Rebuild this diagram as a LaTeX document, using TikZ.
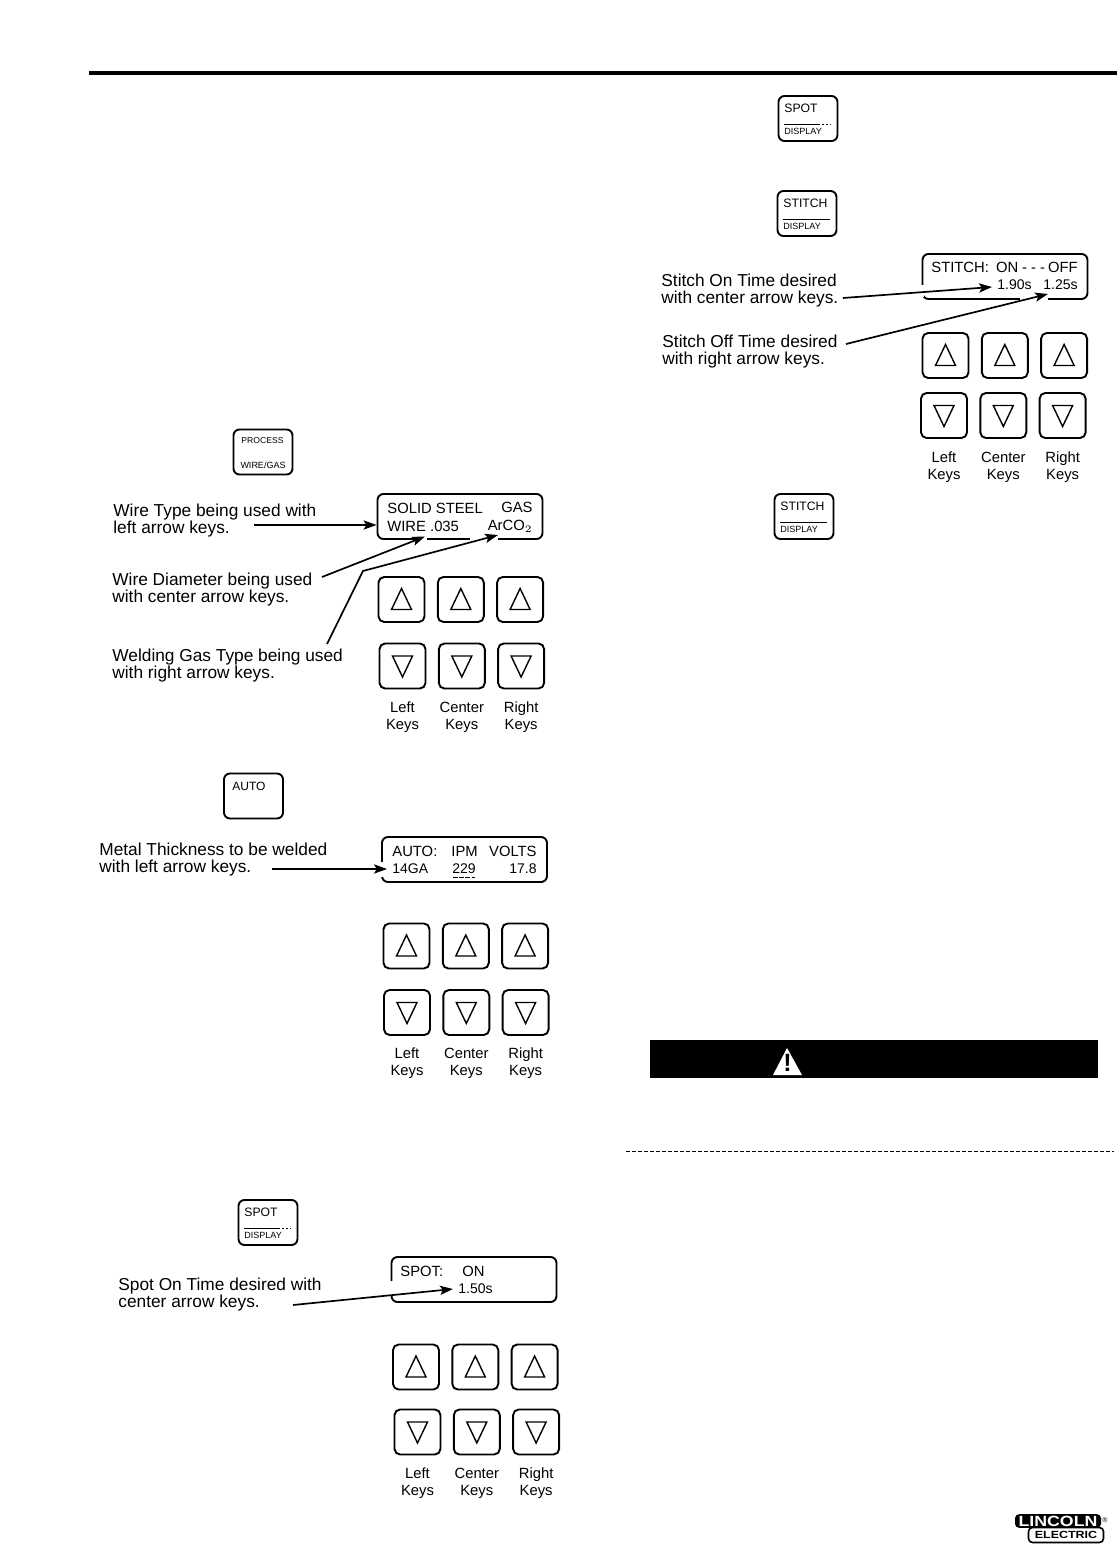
\documentclass[tikz,border=0pt]{standalone}
\usepackage{fontspec}
\setmainfont{Liberation Sans}
\newfontfamily\logofont[FakeStretch=1.2]{Liberation Sans}
\usetikzlibrary{arrows.meta}
\tikzset{
	keybox/.style={draw,line width=.95pt,rounded corners=2.8pt,minimum width=23pt,minimum height=22.5pt,inner sep=0pt},
	btnbox/.style={draw,line width=.95pt,rounded corners=3pt,minimum width=29.5pt,minimum height=22.5pt,inner sep=0pt},
	dspbox/.style={draw,line width=.95pt,rounded corners=3pt,minimum width=82.5pt,minimum height=22.5pt,inner sep=0pt},
	tri/.style={line width=.7pt,line join=miter},
	lab/.style={anchor=west,align=left,inner sep=0pt,font=\fontsize{8.65}{8.5}\selectfont},
	keylab/.style={align=center,inner sep=0pt,font=\fontsize{7.4}{8.5}\selectfont},
	dsp/.style={inner sep=0pt,font=\fontsize{7.4}{8}\selectfont},
	dspb/.style={inner sep=0pt,font=\fontsize{7}{8}\selectfont},
	lead/.style={line width=.85pt,-{Stealth[length=6.5pt,width=4.6pt,inset=1.4pt]}},
	gap/.style={white,line width=1.6pt},
}
% three up keys, three down keys and their names
\newcommand{\keypad}[6]{
	\foreach \i/\t/\n in {0/Left/l,1/Center/c,2/Right/r}{
		\node[keybox] (#1up\n) at ({#2+59.3*\i},#3) {};
		\node[keybox] (#1dn\n) at ({#4+59.3*\i},#5) {};
		\draw[tri] (#1up\n.center) ++(0,-11) -- ++(10,21) -- ++(-20,0) -- cycle;
		\draw[tri] (#1dn\n.center) ++(0,11) -- ++(10,-21) -- ++(-20,0) -- cycle;
		\node[keylab] (#1lab\n) at ({#4+59.3*\i},#6) {\t\\Keys};
	}
}
% key with a DISPLAY line
\newcommand{\dispkey}[5][]{
	\node[btnbox] (#2) at (#3,#4) {};
	\node[inner sep=0pt,anchor=west,font=\fontsize{6.1}{7}\selectfont] (#2top) at (#3-24,#4-10) {#5};
	\draw[line width=.35pt,#1] (#3-24,#4+5.5) -- (#3+23,#4+5.5);
	\node[inner sep=0pt,anchor=west,font=\fontsize{4.5}{5}\selectfont] (#2bot) at (#3-24,#4+13) {DISPLAY};
}
\begin{document}
\begin{tikzpicture}[x=.5pt,y=-.5pt]
	\useasboundingbox (0,0) rectangle (1117,1550);
	
	\draw[line width=2pt] (89,73) to (1117,73);
	
	%process panel
	\node[btnbox] (process) at (263,452) {};
	\node[inner sep=0pt,font=\fontsize{4.3}{5}\selectfont] (processtop) at (262.5,441) {PROCESS};
	\node[inner sep=0pt,font=\fontsize{4.5}{5}\selectfont] (processbot) at (263,465) {WIRE/GAS};
	\node[dspbox] (dspa) at (460,516.5) {};
	\draw[gap] (417,539) to (427,539);
	\draw[gap] (470,539) to (498,539);
	\node[dsp,anchor=west] (dspaa) at (387,508) {SOLID STEEL};
	\node[dsp,anchor=east] (dspab) at (533,507.5) {GAS};
	\node[dsp,anchor=west] (dspac) at (387,526) {WIRE .035};
	\node[dsp,anchor=east] (dspad) at (533,526.5) {ArCO$_2$};
	\keypad{a}{401.5}{599.5}{402.5}{666}{717}
	\node[lab] (wiretype) at (113,520.5) {Wire Type being used with\\left arrow keys.};
	\node[lab] (wirediam) at (112,590) {Wire Diameter being used\\with center arrow keys.};
	\node[lab] (gastype) at (112,666) {Welding Gas Type being used\\with right arrow keys.};
	\coordinate (wiretypeend) at (254,525);
	\coordinate (wirediamend) at (322,577);
	\coordinate (gastypeend) at (327,644);
	\coordinate (gaskink) at (363,571);
	\coordinate (wirediamtip) at (425,536.5);
	\coordinate (gastip) at (498,535);
	\draw[lead] (wiretypeend) to (dspa.west |- wiretypeend);
	\draw[lead] (wirediamend) to (wirediamtip);
	\draw[lead] (gastypeend) -- (gaskink) -- (gastip);
	
	%auto panel
	\node[btnbox] (auto) at (253.5,796) {};
	\node[inner sep=0pt,anchor=west,font=\fontsize{6}{7}\selectfont] (autotop) at (232,786) {AUTO};
	\node[dspbox] (dspb) at (464.5,859.5) {};
	\draw[gap] (382,862) to (382,877);
	\node[dsp,anchor=west] (dspba) at (392,851) {AUTO:};
	\node[dsp,anchor=west] (dspbb) at (451,851) {IPM};
	\node[dsp,anchor=east] (dspbc) at (537,851) {VOLTS};
	\node[dspb,anchor=west] (dspbd) at (392,869) {14GA};
	\node[dspb,anchor=west] (dspbe) at (452,869) {229};
	\node[dspb,anchor=east] (dspbf) at (537,869) {17.8};
	\draw[line width=.4pt,dash pattern=on 2.5pt off .6pt] (453,877.5) to (475,877.5);
	\keypad{b}{406.5}{946}{407}{1012.5}{1063}
	\node[lab] (thick) at (99,859.5) {Metal Thickness to be welded\\with left arrow keys.};
	\coordinate (thickend) at (272,869);
	\coordinate (thicktip) at (387,869);
	\draw[lead] (thickend) to (thicktip);
	
	%spot panel
	\dispkey[dash pattern=on 18pt off 1pt on 1pt off 1pt on 1pt off 1pt on 1.5pt]{spota}{268}{1222.5}{SPOT}
	\node[dspbox] (dspc) at (474,1279.5) {};
	\draw[gap] (392,1281) to (392,1295);
	\node[dsp,anchor=west] (dspca) at (400,1271) {SPOT:};
	\node[dsp,anchor=west] (dspcb) at (462,1271) {ON};
	\node[dspb,anchor=west] (dspcc) at (458,1289) {1.50s};
	\keypad{c}{416}{1367}{417.5}{1432}{1483}
	\node[lab] (spoton) at (118,1294.5) {Spot On Time desired with\\center arrow keys.};
	\coordinate (spotend) at (293,1305);
	\coordinate (spottip) at (453,1289);
	\draw[lead] (spotend) to (spottip);
	
	%stitch panel
	\dispkey[dash pattern=on 18pt off 1pt on 1pt off 1pt on 1pt off 1pt on 1.5pt]{spotb}{808}{118.5}{SPOT}
	\dispkey{stitcha}{807}{213.5}{STITCH}
	\dispkey{stitchb}{804}{516.5}{STITCH}
	\node[dspbox] (dspd) at (1005,276.5) {};
	\draw[gap] (922,285) to (922,297);
	\draw[gap] (1020,299) to (1048,299);
	\node[dsp,anchor=west] (dspda) at (931,267) {STITCH:};
	\node[dsp,anchor=east] (dspdb) at (1078,267) {ON\kern2pt-\kern2pt-\kern2pt-\kern1.5ptOFF};
	\node[dspb,anchor=west] (dspdc) at (997,285) {1.90s};
	\node[dspb,anchor=east] (dspdd) at (1078,285) {1.25s};
	\keypad{d}{945.5}{355.5}{944}{415.5}{467}
	\node[lab] (stitchon) at (661,290.5) {Stitch On Time desired\\with center arrow keys.};
	\node[lab] (stitchoff) at (662,351.5) {Stitch Off Time desired\\with right arrow keys.};
	\coordinate (stitchonend) at (843,298);
	\coordinate (stitchontip) at (992,287);
	\coordinate (stitchoffend) at (846,344);
	\coordinate (stitchofftip) at (1048,294);
	\draw[lead] (stitchonend) to (stitchontip);
	\draw[lead] (stitchoffend) to (stitchofftip);
	
	%warning bar
	\node[fill=black,minimum width=224pt,minimum height=19pt,inner sep=0pt] (warnbar) at (874,1059) {};
	\fill[white] (787,1048) -- (802,1075) -- (773,1075) -- cycle;
	\node[inner sep=0pt,font=\fontsize{12.5}{13}\selectfont\bfseries] (warnmark) at (787.5,1063) {!};
	\draw[line width=.5pt,dash pattern=on 2pt off 1pt] (626,1151) to (1114,1151);
	
	%logo
	\node[draw,line width=.8pt,rounded corners=2pt,minimum width=37.5pt,minimum height=7.5pt,inner sep=0pt,font=\logofont\fontsize{5.2}{6}\selectfont\bfseries] (electric) at (1066,1535) {ELECTRIC};
	\node[fill=black,rounded corners=2pt,minimum width=43pt,minimum height=6.8pt,inner sep=0pt,text=white,font=\logofont\fontsize{7.4}{7}\selectfont\bfseries] (lincoln) at (1058,1521) {LINCOLN};
	\node[inner sep=0pt,font=\fontsize{3.5}{4}\selectfont] (regmark) at (1105,1520) {®};
\end{tikzpicture}
\end{document}
